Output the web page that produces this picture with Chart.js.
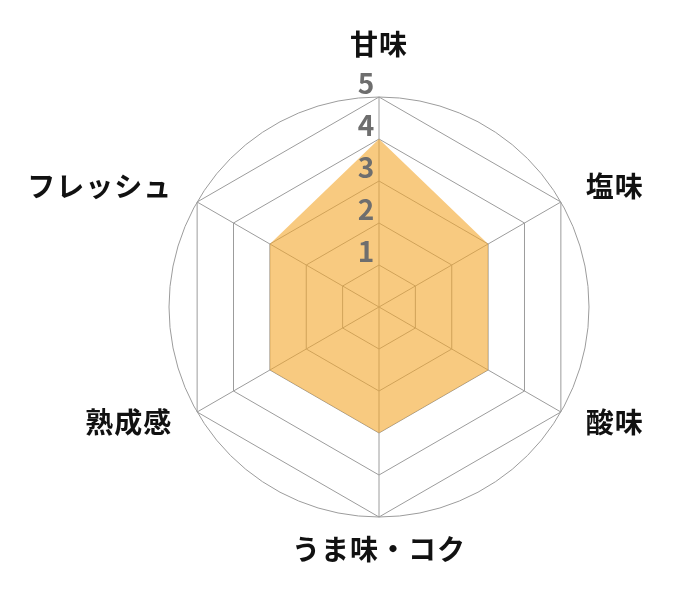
<!DOCTYPE html>
<html lang="ja">
<head>
<meta charset="utf-8">
<script src="https://cdn.jsdelivr.net/npm/chart.js@4"></script>
<style>
  html, body { margin: 0; padding: 0; background: #fff; }
  #wrap { width: 700px; height: 600px; position: relative; }
</style>
</head>
<body>
<div id="wrap"><canvas id="c"></canvas></div>
<script>
const categories = ['甘味', '塩味', '酸味', 'うま味・コク', '熟成感', 'フレッシュ'];
const values = [4, 3, 3, 3, 3, 3];
const tickValues = [1, 2, 3, 4, 5];
const scaleMax = 5;

const FONT = '"Noto Sans CJK JP", "Noto Sans", sans-serif';

const decorPlugin = {
  id: 'decor',
  beforeDatasetsDraw(chart) {
    const s = chart.scales.r;
    const ctx = chart.ctx;
    ctx.save();
    ctx.beginPath();
    ctx.arc(s.xCenter, s.yCenter, s.getDistanceFromCenterForValue(scaleMax), 0, Math.PI * 2);
    ctx.strokeStyle = '#9c9c9c';
    ctx.lineWidth = 1;
    ctx.stroke();
    ctx.restore();
  },
  afterDraw(chart) {
    const s = chart.scales.r;
    const ctx = chart.ctx;
    const R = s.getDistanceFromCenterForValue(scaleMax);
    ctx.save();
    // tick labels
    ctx.font = 'bold 28px ' + FONT;
    ctx.fillStyle = '#6e6e6e';
    ctx.textAlign = 'center';
    ctx.textBaseline = 'middle';
    tickValues.forEach(v => {
      const d = s.getDistanceFromCenterForValue(v);
      ctx.fillText(String(v), s.xCenter - 13, s.yCenter - d - 14);
    });
    // point labels
    ctx.font = 'bold 28px ' + FONT;
    ctx.fillStyle = '#111';
    if ('letterSpacing' in ctx) ctx.letterSpacing = '1px';
    chart.data.labels.forEach((lab, i) => {
      const p = s.getPointPosition(i, R);
      let x = p.x, y = p.y;
      if (Math.abs(p.x - s.xCenter) < 2) {
        ctx.textAlign = 'center';
        y += (p.y < s.yCenter) ? -52.5 : 32.5;
      } else {
        if (p.x > s.xCenter) { ctx.textAlign = 'left'; x += 25; }
        else { ctx.textAlign = 'right'; x -= 25; }
        y += (p.y < s.yCenter) ? -15.5 : 10.5;
      }
      ctx.fillText(lab, x, y);
    });
    ctx.restore();
  }
};

new Chart(document.getElementById('c'), {
  type: 'radar',
  data: {
    labels: categories,
    datasets: [{
      data: values,
      backgroundColor: 'rgba(243,167,43,0.6)',
      borderColor: 'rgba(243,167,43,0)',
      borderWidth: 0,
      pointRadius: 0,
      pointHoverRadius: 0,
      fill: true
    }]
  },
  options: {
    responsive: true,
    maintainAspectRatio: false,
    animation: false,
    layout: { padding: { left: 169, right: 111, top: 97, bottom: 83 } },
    plugins: { legend: { display: false }, tooltip: { enabled: false } },
    scales: {
      r: {
        min: 0,
        max: scaleMax,
        ticks: { stepSize: 1, display: false },
        pointLabels: { display: false },
        grid: { color: '#9c9c9c', lineWidth: 1 },
        angleLines: { color: '#9c9c9c', lineWidth: 1 }
      }
    }
  },
  plugins: [decorPlugin]
});
</script>
</body>
</html>
